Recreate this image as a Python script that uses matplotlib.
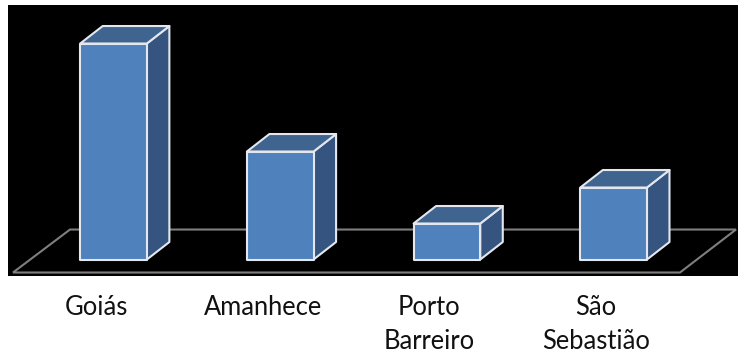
import matplotlib
matplotlib.use("Agg")
import matplotlib.pyplot as plt
from matplotlib.patches import Polygon

categories = ["Goiás", "Amanhece", "Porto\nBarreiro", "São\nSebastião"]
values = [6, 3, 1, 2]

W, H = 738, 356
DPI = 100
BAR_W = 0.40
DEPTH_X, DEPTH_Y = 0.135, 0.486

fig = plt.figure(figsize=(W / DPI, H / DPI), dpi=DPI, facecolor="white")
ax = fig.add_axes([8 / W, 1 - 276 / H, 730 / W, 271 / H])
ax.set_xlim(-0.633, 3.746)
ax.set_ylim(-0.458, 7.07)
ax.axis("off")
ax.add_patch(plt.Rectangle((0, 0), 1, 1, transform=ax.transAxes, fc="black", ec="none", zorder=0))

# floor of the 3D chart
floor = [(-0.603, -0.361), (3.398, -0.361), (3.734, 0.833), (-0.261, 0.833)]
ax.add_patch(Polygon(floor, closed=True, fc="none", ec="#7f7f7f", lw=1.5, zorder=1))

edge = "#e4e8ee"
for i, v in enumerate(values):
    l, r = i - BAR_W / 2, i + BAR_W / 2
    dx, dy = DEPTH_X, DEPTH_Y
    ax.add_patch(Polygon([(r, 0), (r + dx, dy), (r + dx, v + dy), (r, v)],
                         fc="#355480", ec=edge, lw=1.5, joinstyle="round", zorder=2))
    ax.add_patch(Polygon([(l, v), (r, v), (r + dx, v + dy), (l + dx, v + dy)],
                         fc="#3e648f", ec=edge, lw=1.5, joinstyle="round", zorder=2))
    ax.add_patch(Polygon([(l, 0), (r, 0), (r, v), (l, v)],
                         fc="#4f81bd", ec=edge, lw=1.5, joinstyle="round", zorder=3))
    ax.text(i - 0.105, -0.99, categories[i], ha="center", va="top", color="#111111",
            fontsize=18.4, family="Lato", linespacing=1.42, clip_on=False)

fig.savefig("out.png", dpi=DPI, facecolor="white")
